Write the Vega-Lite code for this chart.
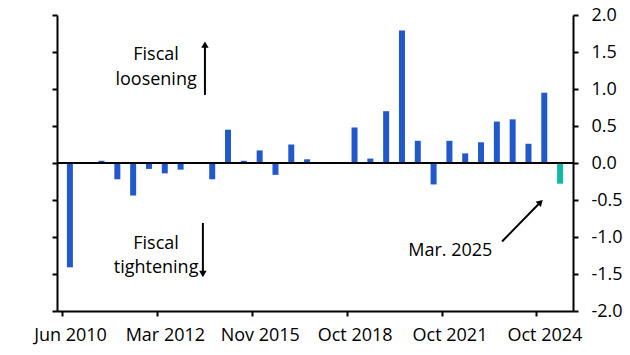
{
  "$schema": "https://vega.github.io/schema/vega-lite/v6.json",
  "width": 516,
  "height": 296,
  "autosize": "none",
  "padding": {"left": 57, "top": 15, "right": 57, "bottom": 44},
  "background": "white",
  "config": {
    "view": {"stroke": null},
    "font": "Open Sans",
    "axis": {
      "domainColor": "black", "domainWidth": 2, "tickColor": "black", "tickWidth": 2, "tickSize": 5,
      "labelColor": "black", "labelFont": "Open Sans", "labelFontSize": 18, "grid": false, "title": null
    }
  },
  "datasets": {
    "bars": [
      {"i": 0, "value": -1.41, "type": "past"},
      {"i": 2, "value": 0.03, "type": "past"},
      {"i": 3, "value": -0.22, "type": "past"},
      {"i": 4, "value": -0.44, "type": "past"},
      {"i": 5, "value": -0.08, "type": "past"},
      {"i": 6, "value": -0.14, "type": "past"},
      {"i": 7, "value": -0.09, "type": "past"},
      {"i": 9, "value": -0.22, "type": "past"},
      {"i": 10, "value": 0.45, "type": "past"},
      {"i": 11, "value": 0.03, "type": "past"},
      {"i": 12, "value": 0.17, "type": "past"},
      {"i": 13, "value": -0.16, "type": "past"},
      {"i": 14, "value": 0.25, "type": "past"},
      {"i": 15, "value": 0.05, "type": "past"},
      {"i": 18, "value": 0.48, "type": "past"},
      {"i": 19, "value": 0.06, "type": "past"},
      {"i": 20, "value": 0.70, "type": "past"},
      {"i": 21, "value": 1.79, "type": "past"},
      {"i": 22, "value": 0.30, "type": "past"},
      {"i": 23, "value": -0.29, "type": "past"},
      {"i": 24, "value": 0.30, "type": "past"},
      {"i": 25, "value": 0.13, "type": "past"},
      {"i": 26, "value": 0.28, "type": "past"},
      {"i": 27, "value": 0.56, "type": "past"},
      {"i": 28, "value": 0.59, "type": "past"},
      {"i": 29, "value": 0.26, "type": "past"},
      {"i": 30, "value": 0.95, "type": "past"},
      {"i": 31, "value": -0.28, "type": "Mar. 2025"}
    ],
    "labels": [
      {"i": 5.45, "value": 1.46, "label": "Fiscal"},
      {"i": 5.45, "value": 1.12, "label": "loosening"},
      {"i": 5.45, "value": -1.09, "label": "Fiscal"},
      {"i": 5.45, "value": -1.42, "label": "tightening"},
      {"i": 24.06, "value": -1.19, "label": "Mar. 2025"}
    ],
    "arrows": [
      {"i": 8.54, "value": 0.92, "i2": 8.54, "value2": 1.62},
      {"i": 8.41, "value": -0.81, "i2": 8.41, "value2": -1.52},
      {"i": 27.33, "value": -1.06, "i2": 29.8, "value2": -0.52}
    ],
    "heads": [
      {"i": 8.54, "value": 1.60, "shape": "triangle-up", "angle": 0},
      {"i": 8.41, "value": -1.50, "shape": "triangle-up", "angle": 180},
      {"i": 29.76, "value": -0.53, "shape": "triangle-up", "angle": 45}
    ]
  },
  "layer": [
    {
      "data": {"name": "bars"},
      "mark": {"type": "bar", "width": 6},
      "encoding": {
        "x": {
          "field": "i", "type": "quantitative",
          "scale": {"domain": [-0.5, 31.5], "nice": false, "zero": false},
          "axis": {
            "orient": "bottom", "values": [-0.5, 5.5, 11.5, 17.5, 23.5, 29.5],
            "labelExpr": "['Jun 2010','Mar 2012','Nov 2015','Oct 2018','Oct 2021','Oct 2024'][round((datum.value + 0.5) / 6)]",
            "labelPadding": 10, "labelOffset": 8, "labelFlush": false, "labelOverlap": false, "title": null
          }
        },
        "y": {
          "field": "value", "type": "quantitative",
          "scale": {"domain": [-2, 2], "nice": false},
          "axis": {"orient": "left", "labels": false, "values": [-2, -1.5, -1, -0.5, 0, 0.5, 1, 1.5, 2], "title": null}
        },
        "color": {
          "field": "type", "type": "nominal",
          "scale": {"domain": ["past", "Mar. 2025"], "range": ["#2159CD", "#11B8A5"]},
          "legend": null
        }
      }
    },
    {
      "data": {"values": [{"value": 0}]},
      "mark": {"type": "rule", "color": "black", "strokeWidth": 2},
      "encoding": {
        "y": {
          "field": "value", "type": "quantitative",
          "axis": {
            "orient": "right", "values": [-2, -1.5, -1, -0.5, 0, 0.5, 1, 1.5, 2],
            "labelExpr": "replace(format(datum.value, '.1f'), '\u2212', '-')",
            "labelPadding": 13, "labelFlush": false, "labelOverlap": false, "title": null
          }
        }
      }
    },
    {
      "data": {"name": "labels"},
      "mark": {"type": "text", "font": "Open Sans", "fontSize": 18, "color": "black", "align": "center", "baseline": "middle"},
      "encoding": {
        "x": {"field": "i", "type": "quantitative"},
        "y": {"field": "value", "type": "quantitative", "axis": null},
        "text": {"field": "label"}
      }
    },
    {
      "data": {"name": "arrows"},
      "mark": {"type": "rule", "color": "black", "strokeWidth": 2},
      "encoding": {
        "x": {"field": "i", "type": "quantitative"},
        "y": {"field": "value", "type": "quantitative", "axis": null},
        "x2": {"field": "i2"},
        "y2": {"field": "value2"}
      }
    },
    {
      "data": {"name": "heads"},
      "mark": {"type": "point", "filled": true, "color": "black", "opacity": 1, "size": 55},
      "encoding": {
        "x": {"field": "i", "type": "quantitative"},
        "y": {"field": "value", "type": "quantitative", "axis": null},
        "shape": {"field": "shape", "type": "nominal", "scale": null},
        "angle": {"field": "angle", "type": "quantitative", "scale": null}
      }
    }
  ],
  "resolve": {"axis": {"y": "independent"}}
}
